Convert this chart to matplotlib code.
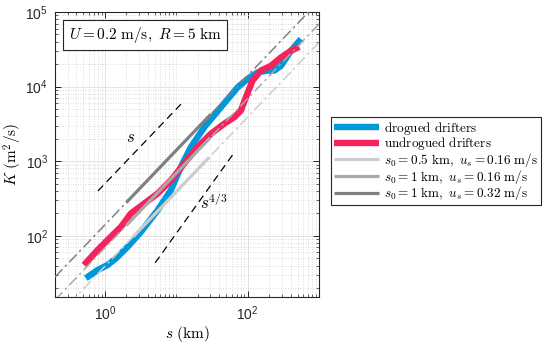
import numpy as np
import matplotlib
matplotlib.use('Agg')
import matplotlib.pyplot as plt
from matplotlib.ticker import FixedLocator, FuncFormatter, NullFormatter

# ---------------- data ----------------
drog_s = [0.54, 0.79, 1.09, 1.43, 2.08, 3.2, 5.47, 8.4, 11.6, 16, 24.7, 42.2, 72.4,
          100, 138, 190, 236, 293, 404, 559]
drog_K = [27, 34.8, 40.6, 49.9, 71, 113, 220, 408, 836, 1545, 2857, 5290, 9770,
          12700, 15500, 16400, 16400, 19000, 30200, 43400]

undr_s = [0.51, 0.79, 1.21, 1.68, 2.31, 3.56, 5.47, 8.4, 12.9, 19.9, 30.6, 47, 64.9,
          80.5, 94.6, 117, 153, 212, 293, 404, 528]
undr_K = [40.6, 64.4, 97, 132, 199, 271, 368, 554, 927, 1545, 2335, 3180, 3890,
          4780, 7190, 12000, 16400, 19000, 24600, 30200, 34200]

model_labels = [r'$s_0 = 0.5\ \mathrm{km},\ u_s = 0.16\ \mathrm{m/s}$',
                r'$s_0 = 1\ \mathrm{km},\ u_s = 0.16\ \mathrm{m/s}$',
                r'$s_0 = 1\ \mathrm{km},\ u_s = 0.32\ \mathrm{m/s}$']
model_coef = [39, 69, 140]                 # K (m^2/s) per km of s
model_solid_s = [(2.5, 29), (2, 30), (2, 30.6)]
model_full_s = (0.2, 1000)
model_colors = ['#cccccc', '#a8a8a8', '#808080']

ref_lin_s = (0.8, 12.5)
ref_lin_coef = 500
ref_43_s = (5.07, 63.6)
ref_43_coef = 5.0

x_major = [1, 100]
y_major = [1e2, 1e3, 1e4, 1e5]

# ---------------- style ----------------
plt.rcParams['mathtext.fontset'] = 'custom'
plt.rcParams['mathtext.rm'] = 'Liberation Sans'
plt.rcParams['mathtext.it'] = 'Liberation Sans:italic'
plt.rcParams['font.family'] = ['Liberation Sans', 'DejaVu Sans']

fig = plt.figure(figsize=(5.5, 3.46), dpi=100)
ax = fig.add_axes([0.1, 0.1408, 0.48, 0.8245])
ax.set_xscale('log')
ax.set_yscale('log')
ax.set_xlim(0.2, 1000)
ax.set_ylim(15, 1e5)

blue = '#0098dc'
red = '#f5235c'

ax.plot(drog_s, drog_K, color=blue, lw=4.6, solid_capstyle='butt', zorder=3,
        label=r'$\mathrm{drogued\ drifters}$')
ax.plot(undr_s, undr_K, color=red, lw=4.6, solid_capstyle='butt', zorder=3,
        label=r'$\mathrm{undrogued\ drifters}$')

for lab, c, (s1, s2), col in zip(model_labels, model_coef, model_solid_s, model_colors):
    sf = np.array(model_full_s)
    ax.plot(sf, c * sf, color=col, lw=1.1, ls=(0, (7, 2.5, 1.5, 2.5)), zorder=4)
    ss = np.array([s1, s2])
    ax.plot(ss, c * ss, color=col, lw=2.3, solid_capstyle='butt', zorder=4, label=lab)

sl = np.array(ref_lin_s)
ax.plot(sl, ref_lin_coef * sl, color='black', lw=0.9, ls=(0, (6, 4)), zorder=5)
s43 = np.array(ref_43_s)
ax.plot(s43, ref_43_coef * s43 ** (4 / 3), color='black', lw=0.9, ls=(0, (6, 4)), zorder=5)

ax.text(2.31, 2085, r'$s$', math_fontfamily='cm', fontsize=12, ha='center', va='center')
ax.text(33.7, 285, r'$s^{4/3}$', math_fontfamily='cm', fontsize=12, ha='center', va='center')

# ticks & grid
ax.xaxis.set_major_locator(FixedLocator(x_major))
xminor = [m * 10.0 ** e for e in range(-1, 4) for m in range(1, 10)]
xminor = [v for v in xminor if v not in x_major]
ax.xaxis.set_minor_locator(FixedLocator(xminor))
ax.yaxis.set_major_locator(FixedLocator(y_major))
yminor = [m * 10.0 ** e for e in range(1, 5) for m in range(2, 10)]
ax.yaxis.set_minor_locator(FixedLocator(yminor))
fmt = FuncFormatter(lambda v, p: r'$10^{%d}$' % int(round(np.log10(v))))
ax.xaxis.set_major_formatter(fmt)
ax.yaxis.set_major_formatter(fmt)
ax.xaxis.set_minor_formatter(NullFormatter())
ax.yaxis.set_minor_formatter(NullFormatter())
ax.tick_params(which='both', direction='in', top=True, right=True, colors='#262626',
               labelcolor='#262626', labelsize=10)
ax.tick_params(which='major', length=4, width=0.7, pad=5)
ax.tick_params(which='minor', length=2, width=0.5)
ax.grid(which='major', color='#e3e3e3', lw=0.7, ls='-')
ax.grid(which='minor', color='#cfcfcf', lw=0.6, ls=(0, (1, 2)))
ax.set_axisbelow(True)
for sp in ax.spines.values():
    sp.set_color('#262626')
    sp.set_linewidth(0.8)

ax.set_xlabel(r'$s\ (\mathrm{km})$', math_fontfamily='cm', fontsize=11, labelpad=1)
ax.set_ylabel(r'$K\ (\mathrm{m}^2/\mathrm{s})$', math_fontfamily='cm', fontsize=11, labelpad=1)

fig.text(145 / 550, 1 - 35 / 346, r'$U = 0.2\ \mathrm{m/s},\ R = 5\ \mathrm{km}$',
         math_fontfamily='cm', fontsize=11, ha='center', va='center', zorder=10,
         bbox=dict(boxstyle='square,pad=0.35', fc='white', ec='#262626', lw=0.8))

leg = fig.legend(loc='upper left', bbox_to_anchor=(331 / 550, 1 - 116.7 / 346),
                 borderaxespad=0, fontsize=9.5, frameon=True, fancybox=False,
                 edgecolor='#262626', framealpha=1, handlelength=3.4,
                 labelspacing=-0.1, handletextpad=0.4, borderpad=0.22)
leg.get_frame().set_linewidth(0.8)
for t in leg.get_texts():
    t.set_math_fontfamily('cm')

fig.savefig('out.png', dpi=100)
